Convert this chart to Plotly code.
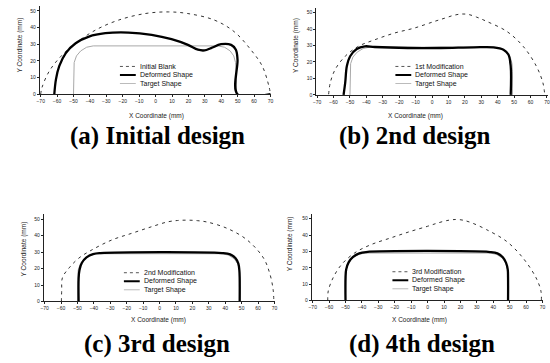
import plotly.graph_objects as go

# ---------------- data ----------------
x_ticks = [-70, -60, -50, -40, -30, -20, -10, 0, 10, 20, 30, 40, 50, 60, 70]
y_ticks = [0, 10, 20, 30, 40, 50]

# target cross-section (same for all designs)
target_x = [-50, -50, -49.6, -48.2, -45.6, -42, -38, 38, 42, 45.4, 47.6, 48.7, 49, 49]
target_y = [0, 14, 19, 23, 26, 28.2, 29, 29, 28.2, 26, 23, 19, 14, 0]

# (a) initial design
a_blank_x = [-70, -69.2, -64.8, -57.7, -48.7, -36.6, -22.5, -6.4, 7.7, 19.7, 35.8, 47.9, 58, 65, 69, 70]
a_blank_y = [0, 4, 13.8, 22.7, 30.6, 38.5, 44.5, 48.4, 49.4, 48.4, 44.5, 37.5, 26.7, 16.8, 4.9, 0]
a_def_x = [-61.7, -60.7, -58.7, -54.7, -48.7, -40.6, -30.6, -16.5, -2.4, 9.7, 19.7, 25.8, 29.8,
           33.8, 39.9, 46, 48.9, 49.9, 49.9, 70]
a_def_y = [0, 8.9, 16.8, 24.7, 30.6, 34.6, 36.6, 37, 35.6, 33, 29.6, 26.7, 26.3,
           27.7, 30, 29.6, 26.7, 20.8, 0, 0]

# (b) 2nd design
b_blank_x = [-63, -62, -59, -52.9, -44.9, -34.9, -22.8, -10.8, 1.3, 8, 13, 17.5, 22, 27, 33.4,
             45.5, 55.5, 63.5, 67.5, 68.6]
b_blank_y = [0.4, 7.4, 15.5, 23.5, 29.5, 33.5, 37.6, 40.6, 44.6, 46.7, 48.3, 49.1, 48.9, 47.3, 44.6,
             38.6, 29.5, 17.5, 7.4, 0.4]
b_def_x = [-53.9, -52.9, -51.9, -49.9, -45.9, -40.9, -34.9, -14.8, 5.3, 25.4, 37.4, 43.5, 46.5, 47.9, 47.9]
b_def_y = [0, 7.4, 17.5, 23.5, 27.9, 29.5, 29.1, 28.5, 28.5, 28.9, 28.9, 27.5, 24.5, 17.5, 0]

# (c) 3rd design
c_blank_x = [-59.8, -59.6, -59.2, -55.1, -49.1, -41.1, -29, -17, -4.9, 5.1, 11, 17.1, 23, 29.2,
             41.2, 53.3, 63.3, 67.3, 69.2, 69.6]
c_blank_y = [0, 7, 14.4, 20.4, 26.4, 31.4, 37.4, 41.4, 45.4, 48.4, 49.2, 49.4, 49.1, 48.2,
             44.4, 37.4, 26.4, 16.4, 7, 0]
c_def_x = [-49.3, -49.3, -48.8, -47.3, -44.5, -40.5, -36, 38, 43, 46.3, 48, 48.6, 48.8, 48.8]
c_def_y = [0, 14, 19, 23.5, 26.8, 28.8, 29.4, 29.4, 28.6, 26.3, 23, 19, 14, 0]

# (d) 4th design
d_blank_x = [-60.8, -60.5, -57.5, -52.4, -44.4, -34.3, -22.3, -10.2, -0.2, 6, 11.5, 16.9, 21.5,
             27, 35.9, 48, 58, 66, 69, 69.3]
d_blank_y = [0, 5.9, 14, 22, 29.1, 34.2, 38.3, 42.3, 45.3, 47.3, 48.8, 49.5, 49.1,
             47.4, 43.3, 36.2, 26.1, 14, 5.9, 0]
d_def_x = [-50, -50, -49.6, -48.1, -45.4, -41.6, -37.5, 38, 42.5, 45.8, 47.8, 48.8, 49, 49]
d_def_y = [0, 14, 19, 23.3, 26.6, 28.8, 29.6, 29.6, 28.8, 26.4, 23, 19, 14, 0]

captions = ["(a) Initial design", "(b) 2nd design", "(c) 3rd design", "(d) 4th design"]
blank_names = ["Initial Blank", "1st Modification", "2nd Modification", "3rd Modification"]
def_name = "Deformed Shape"
tgt_name = "Target Shape"

W, H = 550, 363

# panel placement in pixels: x of -70.5 / 70.5, y of y=0 and px per mm
panels = [
    dict(x0=37.2, x1=270.8, y0=95, k=1.68, blank=(a_blank_x, a_blank_y), dfm=(a_def_x, a_def_y),
         ytitle=(17, 45), xtitle=(155, 117), cap=(156, 137), leg=(118, 67)),
    dict(x0=316.2, x1=549.8, y0=95.7, k=1.66, blank=(b_blank_x, b_blank_y), dfm=(b_def_x, b_def_y),
         ytitle=(295, 46), xtitle=(416, 117), cap=(416, 137), leg=(396, 67)),
    dict(x0=41.2, x1=274.8, y0=304, k=1.66, blank=(c_blank_x, c_blank_y), dfm=(c_def_x, c_def_y),
         ytitle=(20.7, 251), xtitle=(157, 323), cap=(155, 347), leg=(122, 275)),
    dict(x0=311.7, x1=545.3, y0=303, k=1.65, blank=(d_blank_x, d_blank_y), dfm=(d_def_x, d_def_y),
         ytitle=(290, 246), xtitle=(420, 323), cap=(423, 347), leg=(393, 274)),
]

fig = go.Figure()
ymax = 53
annotations = []
shapes = []


def note(px, py, text, size, family="Arial", angle=0, xanchor="center", color="#222"):
    annotations.append(dict(x=px / W, y=1 - py / H, xref="paper", yref="paper", text=text,
                            textangle=angle, showarrow=False, xanchor=xanchor, yanchor="middle",
                            borderpad=0, font=dict(size=size, family=family, color=color)))


for i, p in enumerate(panels):
    n = "" if i == 0 else str(i + 1)
    xa, ya = "x" + n, "y" + n
    ytop = p["y0"] - ymax * p["k"]
    xdom = [p["x0"] / W, p["x1"] / W]
    ydom = [(H - p["y0"]) / H, (H - ytop) / H]

    fig.add_trace(go.Scatter(x=target_x, y=target_y, mode="lines", xaxis=xa, yaxis=ya,
                             line=dict(color="#a8a8a8", width=1), showlegend=False, name=tgt_name))
    fig.add_trace(go.Scatter(x=p["blank"][0], y=p["blank"][1], mode="lines", xaxis=xa, yaxis=ya,
                             line=dict(color="#333333", width=1, dash="3px,4px"),
                             line_shape="spline", showlegend=False, name=blank_names[i]))
    fig.add_trace(go.Scatter(x=p["dfm"][0], y=p["dfm"][1], mode="lines", xaxis=xa, yaxis=ya,
                             line=dict(color="black", width=2.3), line_shape="spline",
                             showlegend=False, name=def_name))

    axis_common = dict(showgrid=False, zeroline=False, showline=True, linecolor="#222",
                       linewidth=1, ticks="outside", ticklen=2, tickcolor="#222",
                       tickfont=dict(size=5, family="Arial", color="#222"))
    fig.update_layout(**{
        "xaxis" + n: dict(domain=xdom, range=[-70.5, 70.5], tickvals=x_ticks, anchor=ya, **axis_common),
        "yaxis" + n: dict(domain=ydom, range=[0, ymax], tickvals=y_ticks, anchor=xa, **axis_common),
    })

    # axis titles and caption
    note(*p["ytitle"], "Y Coordinate (mm)", 6.5, angle=-90)
    note(*p["xtitle"], "X Coordinate (mm)", 6.5)
    note(*p["cap"], "<b>" + captions[i] + "</b>", 25, family="Liberation Serif", color="black")

    # legend keys
    lx, ly = p["leg"]
    styles = [dict(color="#555", width=1, dash="dot"), dict(color="black", width=2),
              dict(color="#bbbbbb", width=1)]
    labels = [blank_names[i], def_name, tgt_name]
    for r in range(3):
        yy = ly + r * 8.6
        shapes.append(dict(type="line", xref="paper", yref="paper",
                           x0=lx / W, x1=(lx + 16) / W, y0=1 - yy / H, y1=1 - yy / H,
                           line=styles[r]))
        note(lx + 19, yy, labels[r], 7, xanchor="left", color="#111")

fig.update_layout(width=W, height=H, margin=dict(l=0, r=0, t=0, b=0),
                  paper_bgcolor="white", plot_bgcolor="white",
                  annotations=annotations, shapes=shapes, showlegend=False)

fig.write_html("out.html")
